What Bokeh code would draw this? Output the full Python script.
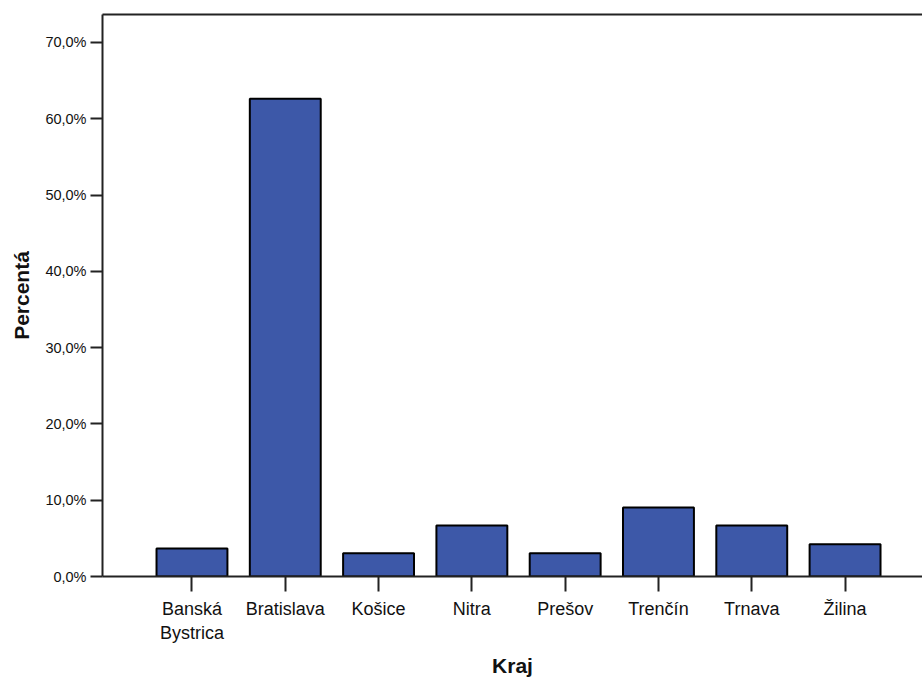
from bokeh.plotting import figure
from bokeh.models import Range1d, FixedTicker, LinearAxis, ColumnDataSource
from bokeh.embed import file_html
from bokeh.resources import INLINE

# Data
categories = ["Banská\nBystrica", "Bratislava", "Košice", "Nitra", "Prešov", "Trenčín", "Trnava", "Žilina"]
percent = [3.66, 62.63, 3.05, 6.67, 3.05, 9.03, 6.67, 4.23]
y_ticks = [0, 10, 20, 30, 40, 50, 60, 70]
y_tick_labels = ["0,0%", "10,0%", "20,0%", "30,0%", "40,0%", "50,0%", "60,0%", "70,0%"]

FONT = "Liberation Sans"
positions = list(range(len(categories)))
src = ColumnDataSource(data=dict(x=positions, top=percent))

p = figure(width=922, height=679, output_backend="svg", toolbar_location=None,
           x_range=Range1d(-0.959, 7.83), y_range=Range1d(0, 73.66),
           min_border_left=102, min_border_right=0, min_border_top=14, min_border_bottom=102)

p.vbar(x="x", top="top", bottom=0, width=0.76, source=src,
       fill_color="#3D58A8", line_color="#000000", line_width=2)

p.outline_line_color = None
p.xgrid.grid_line_color = None
p.ygrid.grid_line_color = None
p.background_fill_color = "white"
p.border_fill_color = "white"

# x axis
xa = p.xaxis[0]
xa.ticker = FixedTicker(ticks=positions)
xa.major_label_overrides = {i: c for i, c in zip(positions, categories)}
xa.minor_tick_line_color = None
xa.major_tick_in = 0
xa.major_tick_out = 15
xa.major_tick_line_width = 2
xa.axis_line_width = 2
xa.axis_line_color = "#222222"
xa.major_tick_line_color = "#222222"
xa.major_label_text_font = FONT
xa.major_label_text_font_size = "18px"
xa.major_label_text_color = "#111111"
xa.major_label_standoff = 7
xa.axis_label = "Kraj"
xa.axis_label_text_font = FONT
xa.axis_label_text_font_size = "21px"
xa.axis_label_text_font_style = "bold"
xa.axis_label_text_color = "#111111"
xa.axis_label_standoff = 8

# y axis
ya = p.yaxis[0]
ya.ticker = FixedTicker(ticks=y_ticks)
ya.major_label_overrides = {t: l for t, l in zip(y_ticks, y_tick_labels)}
ya.minor_tick_line_color = None
ya.major_tick_in = 0
ya.major_tick_out = 12
ya.major_tick_line_width = 2
ya.axis_line_width = 2
ya.axis_line_color = "#222222"
ya.major_tick_line_color = "#222222"
ya.major_label_text_font = FONT
ya.major_label_text_font_size = "14.5px"
ya.major_label_text_color = "#111111"
ya.major_label_standoff = 4
ya.axis_label = "Percentá"
ya.axis_label_text_font = FONT
ya.axis_label_text_font_size = "21px"
ya.axis_label_text_font_style = "bold"
ya.axis_label_text_color = "#111111"
ya.axis_label_standoff = 9

# top border line
top = LinearAxis(ticker=FixedTicker(ticks=[]), axis_line_width=2, axis_line_color="#222222",
                 major_tick_line_color=None, minor_tick_line_color=None,
                 major_label_text_font_size="0px")
p.add_layout(top, "above")

open("out.html", "w").write(file_html(p, INLINE))
